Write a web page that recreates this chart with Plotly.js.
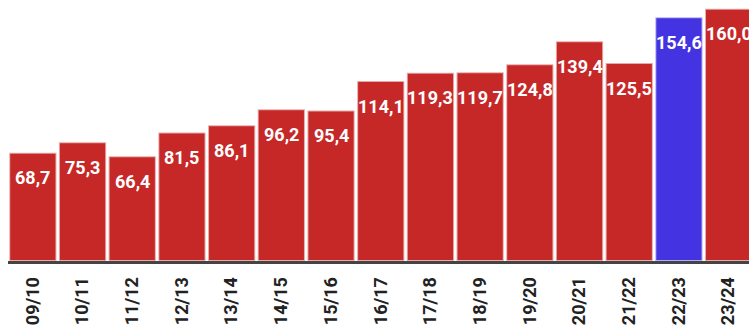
<!DOCTYPE html>
<html><head><meta charset="utf-8">
<script src="https://cdn.plot.ly/plotly-3.0.1.min.js"></script>
<style>html,body{margin:0;padding:0;background:#fff}#c{width:749px;height:327px}</style>
</head><body><div id="c"></div>
<script>
const seasons = ["09/10","10/11","11/12","12/13","13/14","14/15","15/16","16/17","17/18","18/19","19/20","20/21","21/22","22/23","23/24"];
const values = [68.7,75.3,66.4,81.5,86.1,96.2,95.4,114.1,119.3,119.7,124.8,139.4,125.5,154.6,160.0];
const highlight = "22/23";
const red = "#c62828", blue = "#4433e0";
const colors = seasons.map(s => s === highlight ? blue : red);
const fmt = v => v.toFixed(1).replace(".", ",");
const annotations = seasons.map((s, i) => ({
  x: s, y: values[i], xref: "x", yref: "y", text: fmt(values[i]),
  showarrow: false, yanchor: "middle", yshift: -25,
  font: {family: "Roboto", size: 18, color: "#ffffff", weight: "bold"}
}));
Plotly.newPlot("c", [{
  type: "bar", x: seasons, y: values,
  marker: {color: colors, line: {color: "rgba(255,255,255,0.6)", width: 2}},
  hoverinfo: "none"
}], {
  width: 749, height: 327,
  margin: {l: 8, r: 0, t: 0, b: 66, pad: 0},
  paper_bgcolor: "#ffffff", plot_bgcolor: "#ffffff",
  bargap: 0.05,
  showlegend: false,
  xaxis: {type: "category", range: [-0.5, 14.41], tickangle: -90,
    showline: true, linecolor: "#444444", linewidth: 3, ticks: "",
    ticklabelstandoff: 6,
    tickfont: {family: "Roboto", size: 18, color: "#222222", weight: "bold"},
    showgrid: false, zeroline: false},
  yaxis: {range: [0, 165.5], visible: false, showgrid: false, zeroline: false},
  annotations: annotations
}, {staticPlot: true});
</script></body></html>
